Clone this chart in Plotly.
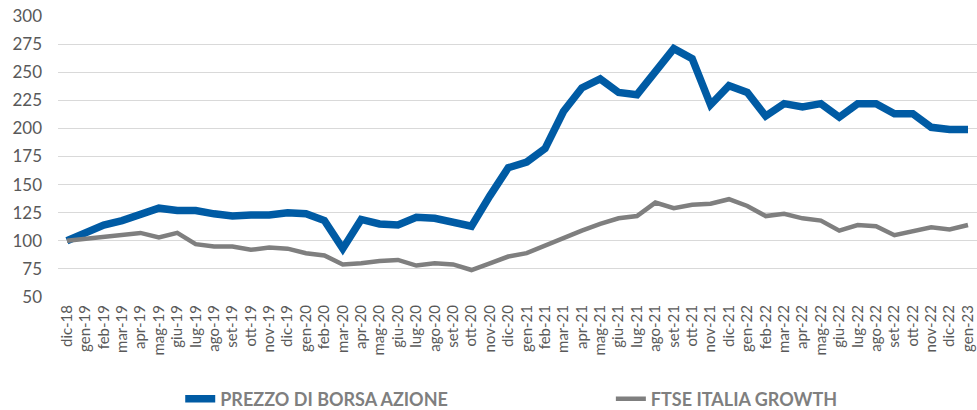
import plotly.graph_objects as go

categories = ["dic-18","gen-19","feb-19","mar-19","apr-19","mag-19","giu-19","lug-19","ago-19","set-19",
              "ott-19","nov-19","dic-19","gen-20","feb-20","mar-20","apr-20","mag-20","giu-20","lug-20",
              "ago-20","set-20","ott-20","nov-20","dic-20","gen-21","feb-21","mar-21","apr-21","mag-21",
              "giu-21","lug-21","ago-21","set-21","ott-21","nov-21","dic-21","gen-22","feb-22","mar-22",
              "apr-22","mag-22","giu-22","lug-22","ago-22","set-22","ott-22","nov-22","dic-22","gen-23"]

prezzo = [100,107,114,118,123,129,127,127,124,122,
          123,123,125,124,118,93,119,115,114,121,
          120,116,113,140,165,170,182,215,236,244,
          232,230,250,271,262,221,238,232,211,222,
          219,222,210,222,222,213,213,201,199,199]

ftse = [100,102,104,105,107,103,107,97,95,95,
        92,94,93,89,87,79,80,82,83,78,
        80,79,74,80,86,89,96,103,109,115,
        120,122,134,129,132,133,137,131,122,124,
        120,118,109,114,113,105,108,112,110,114]

yticks = [50,75,100,125,150,175,200,225,250,275,300]

xs = list(range(len(categories)))
fig = go.Figure()
fig.add_trace(go.Scatter(x=xs, y=prezzo, mode="lines",
                         name="PREZZO DI BORSA AZIONE", legend="legend",
                         line=dict(color="#005ba4", width=7.5)))
fig.add_trace(go.Scatter(x=xs, y=ftse, mode="lines",
                         name="FTSE ITALIA GROWTH", legend="legend2",
                         line=dict(color="#7f7f7f", width=4.5)))

legfont = dict(size=18, color="#7f7f7f", family="Lato", weight="bold")
fig.update_layout(
    width=977, height=410,
    margin=dict(l=58, r=0, t=16, b=113, autoexpand=False),
    plot_bgcolor="white", paper_bgcolor="white",
    font=dict(family="Lato", color="#595959"),
    showlegend=True,
    legend=dict(orientation="h", x=0.133, xanchor="left",
                y=-0.363, yanchor="middle", font=legfont, bgcolor="rgba(0,0,0,0)"),
    legend2=dict(orientation="h", x=0.6016, xanchor="left",
                 y=-0.363, yanchor="middle", font=legfont, bgcolor="rgba(0,0,0,0)"),
    xaxis=dict(range=[-0.486, 49.49], tickmode="array",
               tickvals=xs, ticktext=categories,
               tickangle=-90, tickfont=dict(size=15, color="#595959"),
               ticklabeloverflow="allow", ticklabelstandoff=4,
               showgrid=False, zeroline=False, showline=False, ticks="", automargin=False),
    yaxis=dict(range=[50, 300], tickvals=yticks, showgrid=True, gridcolor="#d9d9d9",
               gridwidth=1, zeroline=False, showline=False, automargin=False,
               ticklabeloverflow="allow", ticklabelstandoff=15,
               tickfont=dict(size=17, color="#595959"), ticks="", ticklen=0),
)
fig.write_html("out.html", config={"displayModeBar": False},
               post_script="document.body.style.margin='0';")
